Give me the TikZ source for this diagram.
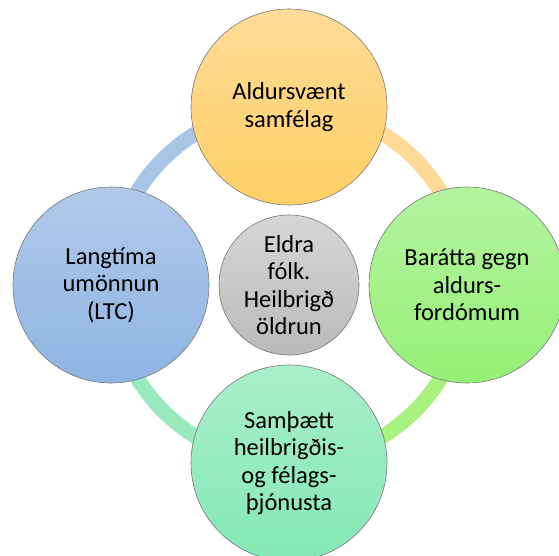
\documentclass[tikz,border=0pt]{standalone}
\usepackage{fontspec}
\setmainfont{Carlito}
\usetikzlibrary{backgrounds}
\definecolor{topA}{RGB}{254,219,152}
\definecolor{topB}{RGB}{255,208,102}
\definecolor{leftA}{RGB}{178,201,233}
\definecolor{leftB}{RGB}{142,180,227}
\definecolor{rightA}{RGB}{180,243,160}
\definecolor{rightB}{RGB}{150,240,118}
\definecolor{botA}{RGB}{170,238,202}
\definecolor{botB}{RGB}{132,232,182}
\definecolor{midA}{RGB}{214,214,214}
\definecolor{midB}{RGB}{186,186,186}
\definecolor{ringBlue}{RGB}{168,197,232}
\definecolor{ringOrange}{RGB}{254,217,152}
\definecolor{ringGreen}{RGB}{170,242,128}
\definecolor{ringMint}{RGB}{152,234,190}
\definecolor{edge}{RGB}{120,120,120}
\tikzset{
  bubble/.style={circle, draw=edge, line width=0.6pt, minimum size=196pt, inner sep=0pt,
    align=center, font=\fontsize{24.5}{27.5}\selectfont, text=black},
  midbubble/.style={bubble, minimum size=140pt, top color=midA, bottom color=midB},
  ringseg/.style={line width=15pt}
}
\begin{document}
\begin{tikzpicture}[x=1pt,y=1pt]
\useasboundingbox (0,0) rectangle (559,555);
\coordinate (C) at (289,270);
\node[bubble, top color=topA, bottom color=topB] (T) at (289,448) {Aldursvænt\\samfélag};
\node[bubble, top color=leftA, bottom color=leftB] (L) at (111,270) {Langtíma\\umönnun\\(LTC)};
\node[bubble, top color=rightA, bottom color=rightB] (R) at (467,270) {Barátta gegn\\aldurs-\\fordómum};
\node[bubble, top color=botA, bottom color=botB] (B) at (289,92) {Samþætt\\heilbrigðis-\\og félags-\\þjónusta};
\node[midbubble] (M) at (C) {Eldra\\fólk.\\Heilbrigð\\öldrun};
\begin{scope}[on background layer]
  \draw[ringseg, ringBlue] (T.center) arc[start angle=90, end angle=180, radius=178];
  \draw[ringseg, ringMint] (L.center) arc[start angle=180, end angle=270, radius=178];
  \draw[ringseg, ringGreen] (B.center) arc[start angle=270, end angle=360, radius=178];
  \draw[ringseg, ringOrange] (R.center) arc[start angle=0, end angle=90, radius=178];
\end{scope}
\end{tikzpicture}
\end{document}
